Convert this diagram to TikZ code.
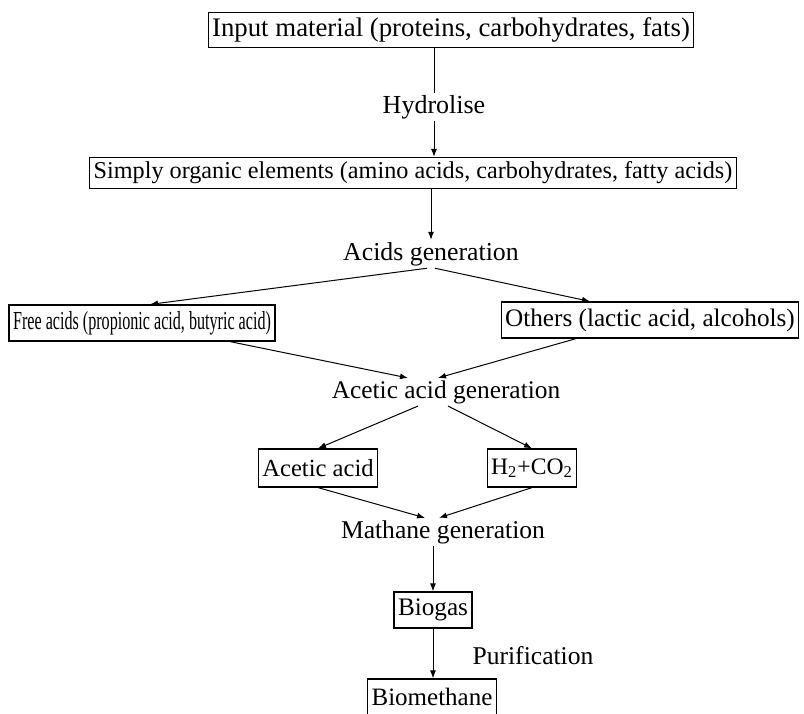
\documentclass[tikz,border=0pt]{standalone}
\usepackage{fontspec}
\setmainfont{Liberation Serif}
\usetikzlibrary{arrows.meta}

\newcommand{\narrowtext}[2]{\scalebox{#1}[1]{#2}}

\begin{document}
\begin{tikzpicture}[x=0.5pt, y=-0.5pt,
  fs/.style={font=\fontsize{#1}{#1}\selectfont},
  box/.style={draw, line width=0.6pt, inner xsep=2pt, inner ysep=0pt, minimum height=18pt, fs=12.7},
  lbl/.style={inner sep=1pt, fs=12.8},
  >={Latex[length=4pt,width=3pt]}, line width=0.5pt]
\useasboundingbox (0,0) rectangle (804,713);
% boxes and stage labels
\node[box, fs=13.4, minimum height=17.5pt] (inp) at (451,30) {Input material (proteins, carbohydrates, fats)};
\node[lbl, fs=13] (hyd) at (434,107) {Hydrolise};
\node[box, fs=12.1, minimum height=15.5pt] (simp) at (413,173) {Simply organic elements (amino acids, carbohydrates, fatty acids)};
\node[lbl, fs=12.9] (acidgen) at (431,254) {Acids generation};
\node[box, fs=13] (free) at (142,323) {\narrowtext{0.62}{Free acids (propionic acid, butyric acid)}};
\node[box, fs=12.6] (oth) at (650,320) {Others (lactic acid, alcohols)};
\node[lbl, fs=12.7] (acetgen) at (446,392) {Acetic acid generation};
\node[box, fs=12.3, minimum height=19pt] (acet) at (318,468) {Acetic acid};
\node[box, fs=11.8, minimum height=19pt] (htwo) at (532,468) {H\textsubscript{2}+CO\textsubscript{2}};
\node[lbl] (methgen) at (443,532) {Mathane generation};
\node[box, fs=12.6] (bio) at (433,610) {Biogas};
\node[lbl] (pur) at (533,656) {Purification};
\node[box, fs=12.5] (biometh) at (432,697) {Biomethane};
% connectors
\draw (inp.south -| hyd) -- (hyd.north);
\draw[->] (hyd.south) -- (simp.north -| hyd);
\draw[->] (simp.south -| acidgen) -- (acidgen.north);
\draw[->] ([xshift=-2pt]acidgen.south) -- ([xshift=4pt]free.north);
\draw[->] ([xshift=2pt]acidgen.south) -- ([xshift=-30pt]oth.north);
\draw[->] ([xshift=44pt]free.south) -- ([xshift=-19pt]acetgen.north);
\draw[->] ([xshift=-37pt]oth.south) -- ([xshift=-4pt]acetgen.north);
\draw[->] ([xshift=-14pt]acetgen.south) -- (acet.north);
\draw[->] ([xshift=1pt]acetgen.south) -- (htwo.north);
\draw[->] (acet.south) -- ([xshift=-9pt]methgen.north);
\draw[->] (htwo.south) -- ([xshift=-2pt]methgen.north);
\draw[->] (methgen.south -| bio) -- (bio.north);
\draw[->] (bio.south) -- (biometh.north -| bio);
\end{tikzpicture}
\end{document}
